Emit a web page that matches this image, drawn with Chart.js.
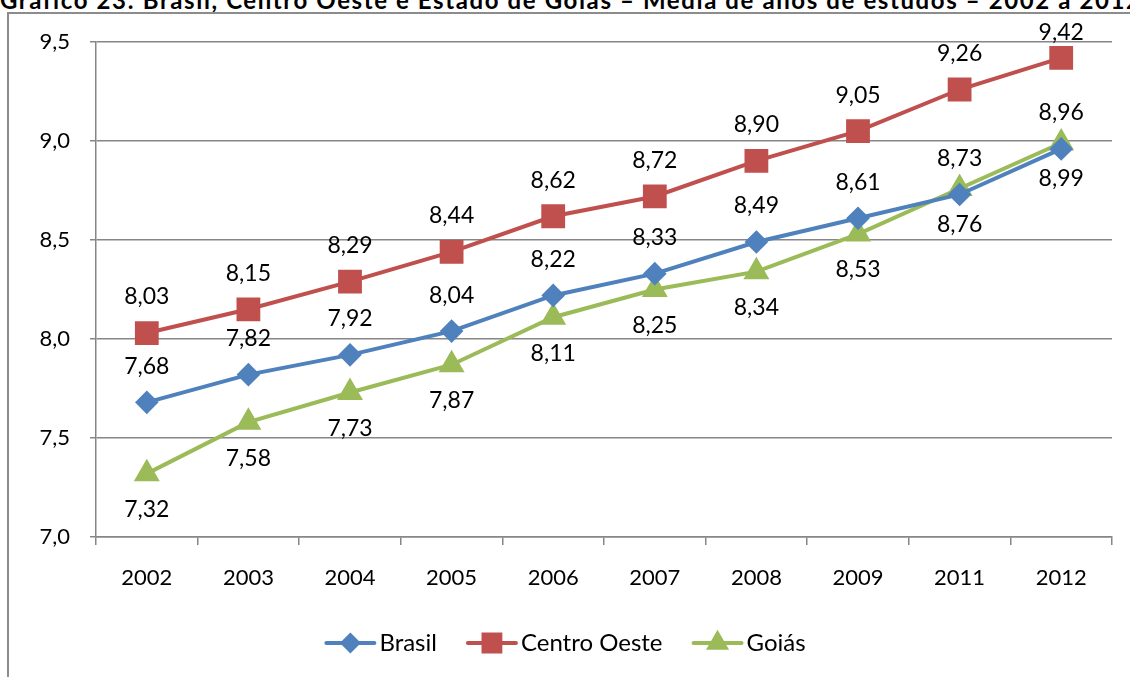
<!DOCTYPE html>
<html>
<head>
<meta charset="utf-8">
<script src="https://cdn.jsdelivr.net/npm/chart.js@4"></script>
<style>
  html, body { margin: 0; padding: 0; background: #fff; overflow: hidden; }
  #wrap { position: relative; width: 1130px; height: 677px; }
  #title {
    position: absolute; left: 0; top: -15px; white-space: nowrap;
    font: bold 24px Lato, sans-serif; letter-spacing: 1.6px; color: #000;
  }
  #frame {
    position: absolute; left: 7px; top: 12px; width: 1200px; height: 800px;
    border-left: 2px solid #8c8c8c; border-top: 2px solid #8c8c8c;
  }
  canvas { position: absolute; left: 0; top: 0; }
</style>
</head>
<body>
<div id="wrap">
  <div id="title">Gráfico 23: Brasil, Centro Oeste e Estado de Goiás – Média de anos de estudos – 2002 a 2012</div>
  <div id="frame"></div>
  <canvas id="chart" width="1130" height="677"></canvas>
</div>
<script>
const years = ['2002', '2003', '2004', '2005', '2006', '2007', '2008', '2009', '2011', '2012'];
const brasil = [7.68, 7.82, 7.92, 8.04, 8.22, 8.33, 8.49, 8.61, 8.73, 8.96];
const centroOeste = [8.03, 8.15, 8.29, 8.44, 8.62, 8.72, 8.90, 9.05, 9.26, 9.42];
const goias = [7.32, 7.58, 7.73, 7.87, 8.11, 8.25, 8.34, 8.53, 8.76, 8.99];
const yTicks = [7.0, 7.5, 8.0, 8.5, 9.0, 9.5];

const FONT = 'Lato, sans-serif';
const fmt = (v, d) => v.toFixed(d).replace('.', ',');

// rótulos de dados: acima (-1) ou abaixo (+1) do ponto
const dataLabels = {
  id: 'dataLabels',
  afterDatasetsDraw(chart) {
    const ctx = chart.ctx;
    ctx.save();
    ctx.font = '23px ' + FONT;
    ctx.fillStyle = '#000';
    ctx.textAlign = 'center';
    ctx.textBaseline = 'middle';
    chart.data.datasets.forEach((ds, i) => {
      const meta = chart.getDatasetMeta(i);
      meta.data.forEach((pt, j) => {
        // não deixa o rótulo sair pela borda de cima
        const y = Math.max(pt.y + ds.labelSide * 36, 33);
        ctx.fillText(fmt(ds.data[j], 2), pt.x, y);
      });
    });
    ctx.restore();
  }
};

// legenda no estilo Excel: linha + marcador
const lineLegend = {
  id: 'lineLegend',
  afterDraw(chart) {
    const ctx = chart.ctx;
    const y = 643;
    const lineW = 52, gapText = 3, gapItem = 29;
    ctx.save();
    ctx.font = '24px ' + FONT;
    const items = chart.data.datasets.map(ds => ({ ds, w: lineW + gapText + ctx.measureText(ds.label).width }));
    const total = items.reduce((s, it) => s + it.w, 0) + gapItem * (items.length - 1);
    let x = chart.width / 2 - total / 2;
    items.forEach(({ ds, w }) => {
      ctx.strokeStyle = ds.borderColor;
      ctx.lineWidth = 4;
      ctx.lineCap = 'round';
      ctx.beginPath();
      ctx.moveTo(x + 2, y);
      ctx.lineTo(x + lineW - 2, y);
      ctx.stroke();
      Chart.helpers.drawPoint(ctx, {
        pointStyle: ds.pointStyle,
        radius: ds.pointRadius * 0.85,
        rotation: 0,
        borderWidth: 1
      }, x + lineW / 2, y);
      ctx.fillStyle = ds.borderColor;
      ctx.fill();
      ctx.fillStyle = '#000';
      ctx.textAlign = 'left';
      ctx.textBaseline = 'middle';
      ctx.fillText(ds.label, x + lineW + gapText, y);
      x += w + gapItem;
    });
    ctx.restore();
  }
};

const mkSet = (label, data, color, style, radius, side) => ({
  label, data,
  borderColor: color,
  backgroundColor: color,
  pointBackgroundColor: color,
  pointBorderColor: color,
  borderWidth: 4,
  pointStyle: style,
  pointRadius: radius,
  pointHoverRadius: radius,
  tension: 0,
  labelSide: side
});

new Chart(document.getElementById('chart'), {
  type: 'line',
  data: {
    labels: years,
    datasets: [
      mkSet('Brasil', brasil, '#4f81bd', 'rectRot', 9, -1),
      mkSet('Centro Oeste', centroOeste, '#c0504d', 'rect', 14, -1),
      mkSet('Goiás', goias, '#9bbb59', 'triangle', 11, 1)
    ]
  },
  options: {
    responsive: false,
    animation: false,
    devicePixelRatio: 1,
    layout: { padding: { left: 0, top: 42, right: 17, bottom: 80 } },
    plugins: {
      legend: { display: false },
      tooltip: { enabled: false }
    },
    scales: {
      x: {
        offset: true,
        afterFit: (s) => { s.height = 60; },
        grid: { offset: true, drawOnChartArea: false, drawTicks: true, tickLength: 8, color: '#868686', lineWidth: 1.5 },
        border: { color: '#868686', width: 1.5 },
        ticks: { color: '#000', font: { family: FONT, size: 22 }, padding: 20, maxRotation: 0 }
      },
      y: {
        min: 7.0,
        max: 9.5,
        afterFit: (s) => { s.width = 96; },
        afterBuildTicks: (s) => { s.ticks = yTicks.map(v => ({ value: v })); },
        grid: { color: '#868686', lineWidth: 1.5, tickLength: 6 },
        border: { color: '#868686', width: 1.5 },
        ticks: { color: '#000', font: { family: FONT, size: 22 }, padding: 20, callback: (v) => fmt(v, 1) }
      }
    }
  },
  plugins: [dataLabels, lineLegend]
});
</script>
</body>
</html>
